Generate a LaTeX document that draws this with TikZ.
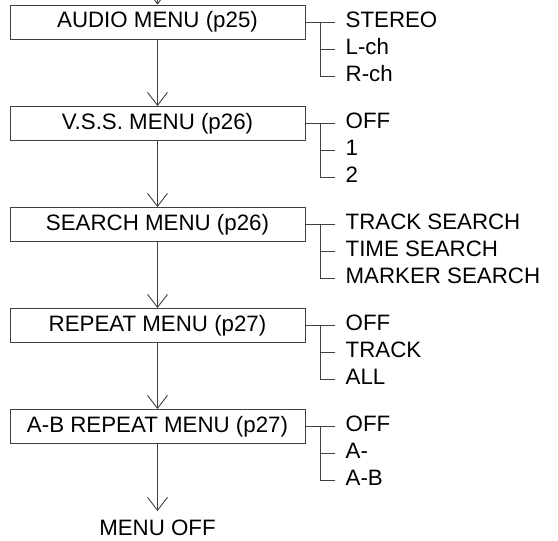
\documentclass[tikz,border=0pt]{standalone}
\usepackage{fontspec}
\setmainfont{Liberation Sans}
\usetikzlibrary{arrows.meta}
\tikzset{
  menubox/.style={draw=black!75, line width=0.9pt, minimum width=295pt, minimum height=34pt, inner sep=0pt, font=\fontsize{22.3}{26}\selectfont},
  itemtext/.style={anchor=base west, inner sep=0pt, font=\fontsize{22.3}{26}\selectfont},
  conn/.style={draw=black!75, line width=0.9pt},
  arr/.style={conn, -{Straight Barb[length=13pt,width=20pt,line width=0.9pt]}}
}
\begin{document}
\begin{tikzpicture}[x=1pt,y=-1pt]
\useasboundingbox (0,0) rectangle (558,541);
\node[menubox] (b1) at (157.5,22) {AUDIO MENU (p25)};
\node[menubox] (b2) at (157.5,123.5) {V.S.S. MENU (p26)};
\node[menubox] (b3) at (157.5,224.5) {SEARCH MENU (p26)};
\node[menubox] (b4) at (157.5,325.5) {REPEAT MENU (p27)};
\node[menubox] (b5) at (157.5,426.5) {A-B REPEAT MENU (p27)};
\node[itemtext, anchor=base, inner ysep=0pt] (off) at (157.5,535) {MENU OFF};
\coordinate (offtop) at (157.5,511);
\coordinate (top) at (157.5,-10);
\draw[arr] (top) -- (b1.north);
\draw[arr] (b1.south) -- (b2.north);
\draw[arr] (b2.south) -- (b3.north);
\draw[arr] (b3.south) -- (b4.north);
\draw[arr] (b4.south) -- (b5.north);
\draw[arr] (b5.south) -- (offtop);
\foreach \b/\ia/\ib/\ic in {
  b1/STEREO/L-ch/R-ch,
  b2/OFF/1/2,
  b3/TRACK SEARCH/TIME SEARCH/MARKER SEARCH,
  b4/OFF/TRACK/ALL,
  b5/OFF/A-/A-B}{
  \coordinate (\b j) at ([xshift=15pt]\b.east);
  \node[itemtext] (\b i1) at ([xshift=40pt,yshift=-5pt]\b.east) {\ia};
  \node[itemtext] (\b i2) at ([xshift=40pt,yshift=-32pt]\b.east) {\ib};
  \node[itemtext] (\b i3) at ([xshift=40pt,yshift=-59pt]\b.east) {\ic};
  \draw[conn] (\b.east) -- ++(30,0);
  \draw[conn] (\b j) -- ++(0,54) -- ++(15,0);
  \draw[conn] ([yshift=-27pt]\b j) -- ++(15,0);
}
\end{tikzpicture}
\end{document}
